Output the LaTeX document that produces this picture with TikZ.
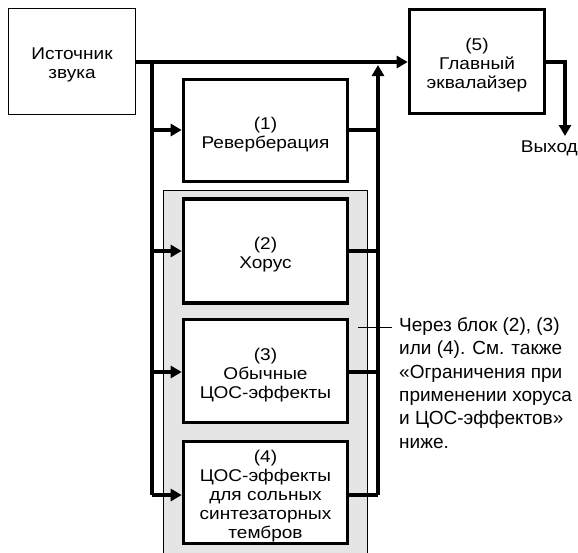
\documentclass[tikz,border=0pt]{standalone}
\usepackage{fontspec}
\setmainfont{Liberation Sans}
\newfontfamily\boxfont[FakeStretch=1.12]{Liberation Sans}
\usetikzlibrary{arrows.meta}
\begin{document}
\begin{tikzpicture}[x=1pt,y=-1pt,
  txt/.style={font=\boxfont\fontsize{17}{19}\selectfont, align=center, inner sep=0pt},
  thinbox/.style={draw=black, line width=1pt, fill=white},
  thickbox/.style={draw=black, line width=3.6pt, fill=white},
  bus/.style={line width=4pt, draw=black},
  arr/.style={bus, -{Triangle[length=11pt,width=12pt]}},
  note/.style={font=\fontsize{19}{23.3}\selectfont, align=left, inner sep=0pt}
]
\useasboundingbox (0,0) rectangle (578,552);
% gray panel
\fill[gray!20] (163,190) rectangle (367,560);
\draw[line width=0.8pt] (163,560) -- (163,190) -- (367,190) -- (367,560);

\node[thinbox, minimum width=127pt, minimum height=106pt] (src) at (72,61.5) {};
\node[thickbox, minimum width=135pt, minimum height=104pt] (eq) at (477,61.5) {};
\node[thickbox, minimum width=164pt, minimum height=102pt] (b1) at (265.5,130.5) {};
\node[thickbox, minimum width=164pt, minimum height=104pt] (b2) at (265.5,251) {};
\node[thickbox, minimum width=164pt, minimum height=103pt] (b3) at (265.5,371) {};
\node[thickbox, minimum width=164pt, minimum height=102pt] (b4) at (265.5,492.5) {};

\node[txt] (srct) at ([yshift=-3pt]src.center) {Источник\\звука};
\node[txt] (eqt) at ([yshift=-4pt]eq.center) {(5)\\Главный\\эквалайзер};
\node[txt] (b1t) at ([yshift=-4pt]b1.center) {(1)\\Реверберация};
\node[txt] (b2t) at ([yshift=-4pt]b2.center) {(2)\\Хорус};
\node[txt] (b3t) at ([yshift=-4pt]b3.center) {(3)\\Обычные\\ЦОС-эффекты};
\node[txt] (b4t) at ([yshift=-4pt]b4.center) {(4)\\ЦОС-эффекты\\для сольных\\синтезаторных\\тембров};

\node[txt, anchor=east] (out) at (578,148) {Выход};

\coordinate (lt) at (152,62);
\coordinate (lb) at (152,495);
\coordinate (rt) at (378,65);
\coordinate (rb) at (378,495);
\coordinate (ot) at (565,62);
\coordinate (ob) at (565,136);

% main line
\draw[arr] (src.east |- lt) -- (eq.west |- lt);
% left bus
\draw[bus] (lt) -- (lb);
\draw[arr] (lb) -- (b4.west |- lb);
\draw[arr] (152,130) -- (b1.west |- 0,130);
\draw[arr] (152,251) -- (b2.west |- 0,251);
\draw[arr] (152,372) -- (b3.west |- 0,372);
% right bus
\draw[arr] (rb) -- (rt);
\draw[bus] (b4.east |- rb) -- (rb);
\draw[bus] (b1.east |- 0,130) -- (378,130);
\draw[bus] (b2.east |- 0,251) -- (378,251);
\draw[bus] (b3.east |- 0,372) -- (378,372);
% output
\draw[arr] (eq.east |- ot) -- (ot) -- (ob);

% callout
\coordinate (ca) at (358,327.5);
\node[note, anchor=north west] (nt) at (399,317.5) {Через блок (2), (3)\\или (4). См. также\\«Ограничения при\\применении хоруса\\и ЦОС-эффектов»\\ниже.};
\coordinate (cb) at (392,327.5);
\draw[line width=0.8pt] (ca) -- (cb);
\end{tikzpicture}
\end{document}
